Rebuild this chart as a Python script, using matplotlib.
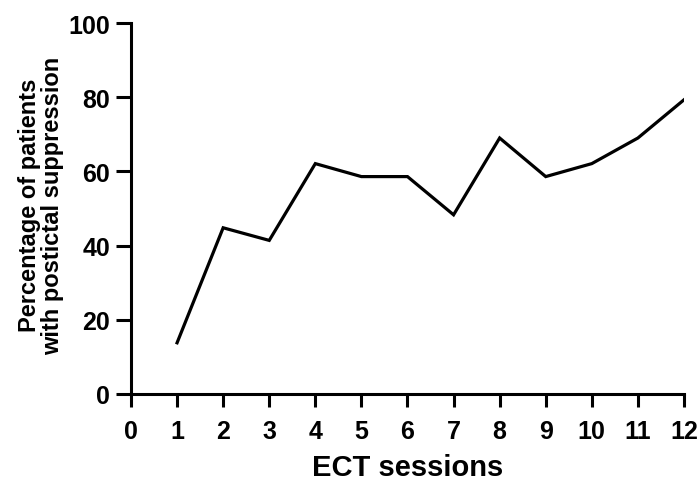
import matplotlib.pyplot as plt

plt.rcParams['font.family'] = ['Liberation Sans', 'DejaVu Sans']
plt.rcParams['font.weight'] = 'bold'

# data
sessions = [1, 2, 3, 4, 5, 6, 7, 8, 9, 10, 11, 12]
pct_suppression = [13.8, 44.8, 41.4, 62.1, 58.6, 58.6, 48.3, 69.0, 58.6, 62.1, 69.0, 79.3]
x_ticks = list(range(0, 13))
y_ticks = [0, 20, 40, 60, 80, 100]

fig = plt.figure(figsize=(6.99, 4.85), dpi=100)
ax = fig.add_axes([0.1874, 0.1856, 0.7911, 0.7649])

ax.plot(sessions, pct_suppression, color='black', linewidth=2.3, solid_joinstyle='miter')

ax.set_xlim(0, 12)
ax.set_ylim(0, 100)
ax.set_xticks(x_ticks)
ax.set_yticks(y_ticks)

for side in ['top', 'right']:
    ax.spines[side].set_visible(False)
for side in ['left', 'bottom']:
    ax.spines[side].set_linewidth(2.2)

ax.tick_params(axis='x', width=2.2, length=9, labelsize=18, pad=9)
ax.tick_params(axis='y', width=2.2, length=11, labelsize=18, pad=4)
for lbl in ax.get_xticklabels() + ax.get_yticklabels():
    lbl.set_fontweight('bold')

ax.set_xlabel('ECT sessions', fontsize=21, fontweight='bold', labelpad=7)
ax.set_ylabel('Percentage of patients\nwith postictal suppression', fontsize=17,
              fontweight='bold', linespacing=1.0)
ax.yaxis.set_label_coords(-0.121, 0.51)

fig.savefig('out.png', dpi=100)
